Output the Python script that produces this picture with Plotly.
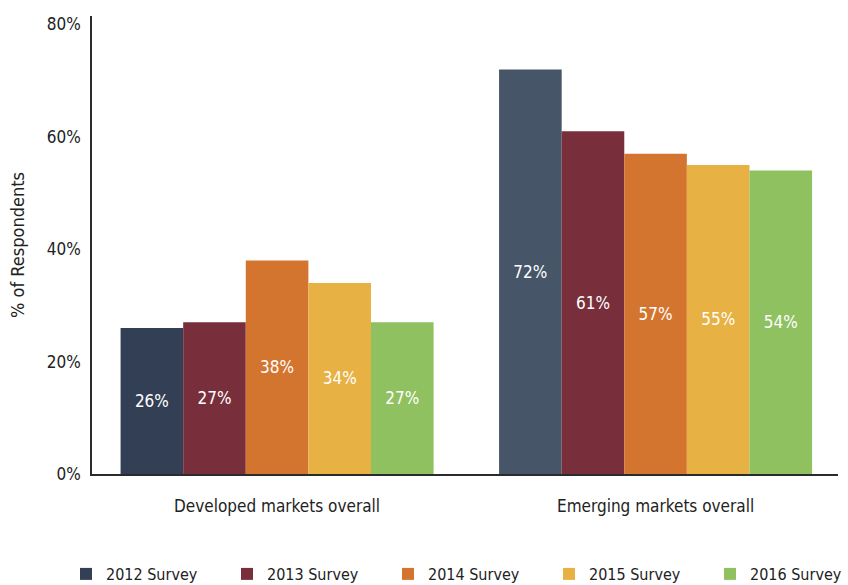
import plotly.graph_objects as go

# Survey results by market group
categories = ["Developed markets overall", "Emerging markets overall"]
surveys = ["2012 Survey", "2013 Survey", "2014 Survey", "2015 Survey", "2016 Survey"]
values = {
    "2012 Survey": [26, 72],
    "2013 Survey": [27, 61],
    "2014 Survey": [38, 57],
    "2015 Survey": [34, 55],
    "2016 Survey": [27, 54],
}
y_ticks = [0, 20, 40, 60, 80]
y_tick_labels = ["0%", "20%", "40%", "60%", "80%"]

# per-bar fills (the 2012 series is a lighter slate in the emerging group)
bar_colors = {
    "2012 Survey": ["#333f54", "#465568"],
    "2013 Survey": ["#782f3b", "#782f3b"],
    "2014 Survey": ["#d4752f", "#d4752f"],
    "2015 Survey": ["#e7b143", "#e7b143"],
    "2016 Survey": ["#90c160", "#90c160"],
}

FONT = "Liberation Sans Narrow, DejaVu Sans Condensed, Arial Narrow, sans-serif"
W, H = 848, 585

fig = go.Figure()
legend_layouts = {}
for i, s in enumerate(surveys):
    key = "legend" if i == 0 else f"legend{i + 1}"
    fig.add_trace(go.Bar(
        name=s,
        x=categories,
        y=values[s],
        legend=key,
        showlegend=True,
        marker=dict(color=bar_colors[s], line=dict(width=0)),
        text=[f"{v}%" for v in values[s]],
        textposition="inside",
        insidetextanchor="middle",
        textangle=0,
        textfont=dict(color="white", size=17, family=FONT),
        hoverinfo="skip",
    ))
    # one single-entry legend per series, spaced evenly along the bottom
    legend_layouts[key] = dict(
        orientation="h",
        xref="container",
        yref="container",
        x=(66 + 161 * i) / W,
        xanchor="left",
        y=11 / H,
        yanchor="middle",
        bgcolor="rgba(0,0,0,0)",
        font=dict(size=16, family=FONT, color="#222222"),
        itemclick=False,
        itemdoubleclick=False,
    )

fig.update_layout(
    width=W,
    height=H,
    showlegend=True,
    barmode="group",
    bargap=0.173,
    bargroupgap=0,
    plot_bgcolor="white",
    paper_bgcolor="white",
    margin=dict(l=92, r=10, t=16, b=111),
    font=dict(family=FONT, color="#222222", size=16),
    xaxis=dict(
        range=[-0.489, 1.482],
        showline=True,
        linecolor="#2b2b2b",
        linewidth=2,
        showgrid=False,
        ticks="",
        automargin=False,
        tickfont=dict(size=17, family=FONT, color="#222222"),
        ticklabelstandoff=16,
    ),
    yaxis=dict(
        range=[0, 81.5],
        tickvals=y_ticks,
        ticktext=y_tick_labels,
        showline=True,
        linecolor="#2b2b2b",
        linewidth=1.5,
        showgrid=False,
        zeroline=False,
        ticks="",
        automargin=False,
        ticklabelstandoff=6,
        tickfont=dict(size=17, family=FONT, color="#222222"),
        title=dict(text="% of Respondents", font=dict(size=18, family=FONT, color="#222222"), standoff=18),
    ),
    **legend_layouts,
)

fig.write_html("out.html")
